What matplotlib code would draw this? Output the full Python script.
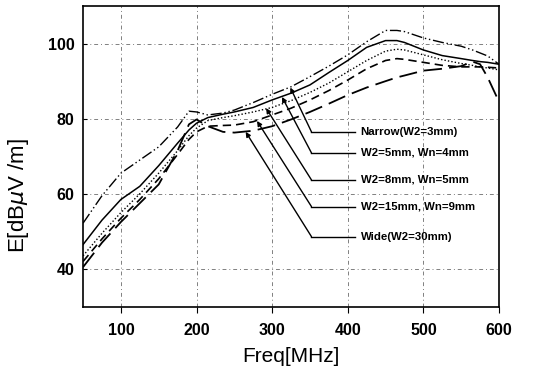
import matplotlib
matplotlib.use("Agg")
import matplotlib.pyplot as plt

plt.rcParams['font.family'] = ['Liberation Sans', 'DejaVu Sans']

# frequency points [MHz]
freq = [50, 75, 100, 125, 150, 175, 190, 200, 215, 235, 250, 275, 300, 325, 350,
        375, 400, 425, 450, 465, 475, 500, 525, 550, 565, 575, 585, 600]

# field strength [dBuV/m]
narrow = [52.2, 59.5, 65.5, 69.0, 72.5, 77.8, 82.0, 81.8, 81.0, 81.5, 82.3, 84.3, 86.5, 88.5, 91.2,
          94.0, 97.0, 100.5, 103.5, 103.5, 103.2, 101.5, 100.3, 99.3, 98.3, 97.5, 96.7, 94.5]
w5 = [46.5, 53.0, 58.5, 62.0, 67.5, 73.5, 77.0, 78.8, 80.3, 81.2, 81.8, 83.0, 85.0, 86.8, 89.0,
      92.3, 95.5, 99.0, 100.8, 100.8, 100.3, 98.3, 96.8, 96.0, 95.5, 95.2, 95.0, 94.5]
w8 = [43.5, 49.5, 55.0, 60.0, 65.5, 71.5, 75.5, 77.5, 79.5, 80.3, 80.8, 81.8, 83.0, 84.8, 87.0,
      89.5, 92.5, 95.5, 98.0, 98.5, 98.3, 97.0, 95.7, 94.7, 94.2, 93.8, 93.5, 93.0]
w15 = [42.0, 48.0, 53.5, 58.5, 64.0, 70.5, 74.5, 76.5, 78.0, 78.2, 78.3, 79.2, 81.0, 82.8, 85.0,
       87.5, 90.3, 93.3, 95.5, 96.0, 95.8, 95.0, 94.2, 93.8, 93.8, 93.8, 93.7, 93.5]
wide = [40.5, 47.0, 52.5, 57.5, 62.5, 71.5, 78.5, 79.8, 78.0, 76.5, 76.3, 76.8, 78.0, 79.8, 81.8,
        84.0, 86.3, 88.3, 90.0, 91.0, 91.5, 92.8, 93.3, 94.0, 95.2, 94.5, 91.0, 84.5]

labels = ["Narrow(W2=3mm)", "W2=5mm, Wn=4mm", "W2=8mm, Wn=5mm", "W2=15mm, Wn=9mm", "Wide(W2=30mm)"]
# arrow tip points on each curve, and label heights
tip_f = [324, 313, 292, 280, 265]
tip_v = [88.3, 85.8, 82.8, 79.4, 76.5]
label_v = [76.5, 70.9, 63.7, 56.6, 48.6]

fig = plt.figure(figsize=(5.43, 3.77), dpi=100)
ax = fig.add_axes([0.153, 0.187, 0.766, 0.797])

ax.plot(freq, narrow, color='k', lw=1.0, linestyle=(0, (8, 2, 1, 2, 1, 2)))
ax.plot(freq, w5, color='k', lw=1.1)
ax.plot(freq, w8, color='k', lw=1.0, linestyle=(0, (1, 1.5)))
ax.plot(freq, w15, color='k', lw=1.2, linestyle=(0, (5, 3)))
ax.plot(freq, wide, color='k', lw=1.3, linestyle=(0, (10, 4)))

elbow_f = 352
for lab, tf, tv, lv in zip(labels, tip_f, tip_v, label_v):
    ax.plot([elbow_f, 409], [lv, lv], color='k', lw=1.0)
    ax.annotate('', xy=(tf, tv), xytext=(elbow_f, lv),
                arrowprops=dict(arrowstyle='-|>', color='k', lw=1.0,
                                mutation_scale=7, shrinkA=0, shrinkB=0))
    ax.text(417, lv, lab, fontsize=8.2, fontweight='bold', va='center', ha='left')

ax.set_xlim(50, 600)
ax.set_ylim(30, 110)
ax.set_xticks([100, 200, 300, 400, 500, 600])
ax.set_yticks([40, 60, 80, 100])
ax.grid(True, color='0.5', lw=0.7, linestyle=(0, (4, 3, 1, 3)))
ax.tick_params(axis='x', direction='out', length=4, labelsize=11.5, pad=8)
ax.tick_params(axis='y', direction='in', length=3, labelsize=11.5, pad=6)
for t in ax.get_xticklabels() + ax.get_yticklabels():
    t.set_fontweight('bold')
for s in ax.spines.values():
    s.set_linewidth(1.2)

ax.set_xlabel("Freq[MHz]", fontsize=15, labelpad=6)
ax.set_ylabel("E[dB$\\mu$V /m]", fontsize=16)
ax.yaxis.set_label_coords(-0.125, 0.37)

fig.savefig("out.png", dpi=100)
